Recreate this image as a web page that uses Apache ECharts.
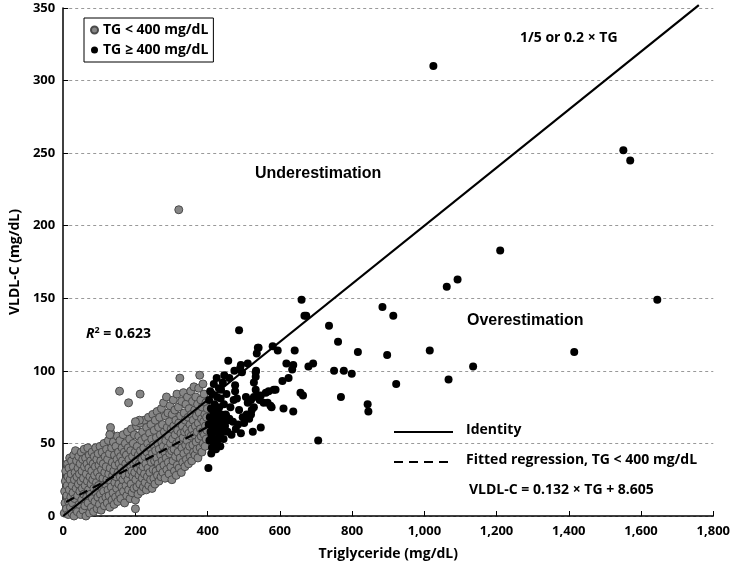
<!DOCTYPE html>
<html>
<head>
<meta charset="utf-8">
<script src="https://cdn.jsdelivr.net/npm/echarts@6/dist/echarts.min.js"></script>
<style>html,body{margin:0;padding:0;background:#fff;}#c{width:733px;height:576px;}</style>
</head>
<body>
<div id="c"></div>
<script>
// ---- Data ----
var xTicks = [0, 200, 400, 600, 800, 1000, 1200, 1400, 1600, 1800];
var yTicks = [0, 50, 100, 150, 200, 250, 300, 350];

// TG < 400 mg/dL (grey points): [TG, VLDL-C]
var tgLow = [
[3,2],[5,9],[4,17],[6,24],[7,31],[9,5],[10,14],[11,21],[12,36],[13,27],[14,1],[15,10],[16,33],[17,18],[18,40],[19,25],[20,6],[21,13],[22,29],[23,38],[24,2],[25,21],
[26,9],[27,16],[28,34],[29,42],[30,0],[31,25],[32,12],[33,30],[34,45],[35,5],[36,19],[37,38],[38,27],[39,3],[40,14],[41,33],[42,22],[43,41],[44,8],[45,29],[46,17],[47,36],[48,1],[49,24],[50,44],
[51,11],[52,31],[53,19],[54,39],[55,4],[56,26],[57,15],[58,46],[59,34],[60,7],[61,21],[62,40],[63,0],[64,29],[65,13],[66,36],[67,24],[68,47],[69,9],[70,18],[71,33],[72,42],[73,2],[74,27],[75,15],[76,38],[77,22],[78,6],[79,31],[80,44],[81,12],[82,25],[83,36],[84,3],[85,19],[86,41],[87,28],[88,10],[89,34],[90,47],[91,16],[92,23],[93,39],[94,5],[95,30],[96,13],[97,43],[98,21],[99,35],[100,8],
[101,27],[102,48],[103,15],[104,38],[105,4],[106,32],[107,20],[108,44],[109,11],[110,26],[111,36],[112,17],[113,50],[114,7],[115,30],[116,41],[117,22],[118,13],[119,34],[120,46],[121,25],[122,9],[123,39],[124,18],[125,52],[126,29],[127,14],[128,43],[129,6],[130,33],[131,24],[132,57],[133,20],[134,47],[135,11],[136,37],[137,28],[138,16],[139,51],[140,31],[141,8],[142,42],[143,23],[144,35],[145,13],[146,48],[147,27],[148,19],[149,39],[150,55],
[151,10],[152,30],[153,44],[154,22],[155,36],[156,15],[157,52],[158,27],[159,41],[160,12],[161,33],[162,20],[163,47],[164,38],[165,25],[166,56],[167,17],[168,31],[169,44],[170,9],[171,28],[172,50],[173,36],[174,21],[175,42],[176,14],[177,33],[178,58],[179,25],[180,47],[181,18],[182,39],[183,29],[184,53],[185,12],[186,35],[187,45],[188,22],[189,60],[190,31],[191,16],[192,41],[193,27],[194,50],[195,36],[196,19],[197,56],[198,30],[199,44],[200,11],
[201,25],[202,38],[203,62],[204,20],[205,48],[206,33],[207,15],[208,42],[209,55],[210,28],[211,36],[212,22],[213,64],[214,45],[215,31],[216,17],[217,52],[218,39],[219,26],[220,58],[221,34],[222,20],[223,47],[224,66],[225,29],[226,41],[227,23],[228,54],[229,36],[230,18],[231,61],[232,44],[233,27],[234,50],[235,33],[236,68],[237,21],[238,40],[239,57],[240,30],[241,47],[242,25],[243,63],[244,37],[245,53],[246,19],[247,43],[248,70],[249,32],[250,49],
[251,26],[252,59],[253,38],[254,22],[255,66],[256,45],[257,31],[258,54],[259,40],[260,72],[261,28],[262,50],[263,36],[264,61],[265,24],[266,46],[267,68],[268,33],[269,56],[270,42],[271,27],[272,74],[273,51],[274,38],[275,63],[276,30],[277,48],[278,78],[279,35],[280,58],[281,44],[282,26],[283,69],[284,52],[285,40],[286,82],[287,32],[288,61],[289,47],[290,71],[291,37],[292,55],[293,29],[294,65],[295,43],[296,76],[297,50],[298,34],[299,60],[300,45],
[301,25],[302,70],[303,53],[304,38],[305,80],[306,62],[307,46],[308,31],[309,73],[310,56],[311,41],[312,66],[313,28],[314,50],[315,84],[316,35],[317,59],[318,44],[319,75],[320,64],[321,33],[322,52],[323,95],[324,40],[325,69],[326,57],[327,30],[328,79],[329,47],[330,62],[331,37],[332,54],[333,85],[334,43],[335,71],[336,58],[337,34],[338,66],[339,49],[340,77],[341,39],[342,60],[343,52],[344,82],[345,45],[346,68],[347,36],[348,57],[349,74],[350,48],
[351,63],[352,41],[353,86],[354,55],[355,70],[356,38],[357,60],[358,79],[359,49],[360,66],[361,44],[362,89],[363,56],[364,73],[365,42],[366,62],[367,82],[368,51],[369,69],[370,46],[371,58],[372,77],[373,40],[374,64],[375,88],[376,53],[377,71],[378,97],[379,47],[380,60],[381,80],[382,55],[383,67],[384,44],[385,75],[386,58],[387,91],[388,50],[389,65],[390,84],[391,56],[392,70],[393,48],[394,62],[395,78],[396,53],[397,68],[398,59],[399,74],
[320,211],[156,86],[213,84],[181,78],[200,5],[131,61],[129,56],[211,66],[200,65]
];

// TG >= 400 mg/dL (black points): [TG, VLDL-C]
var tgHigh = [
[402,33],[410,43],[412,47],[405,52],[408,58],[403,63],[406,68],[409,74],[404,80],[407,86],[411,55],[414,61],[416,49],[418,66],[415,72],[413,84],[417,91],[420,53],[422,58],[419,77],[421,64],[424,70],[423,46],[426,82],[425,95],[428,60],[427,52],[430,67],[429,74],[431,88],[433,56],[432,75],[434,62],[436,81],[435,48],[437,87],[438,70],[440,58],[441,65],[442,92],[444,53],[445,77],[446,97],[448,62],[450,70],[451,69],[452,84],[455,58],[457,107],[458,66],[460,95],[460,67],[463,75],[466,56],[470,65],[472,80],[474,100],[476,90],[476,86],[478,60],[481,81],[484,63],[487,73],[487,128],[490,102],[492,57],[492,104],[495,99],[497,68],[501,64],[506,82],[508,70],[511,78],[511,105],[515,67],[520,70],[520,80],[522,73],[525,58],[528,75],[528,82],[528,92],[533,87],[533,96],[533,99],[534,100],[536,112],[539,83],[539,116],[541,116],[544,80],[547,61],[547,83],[555,78],[561,85],[566,78],[569,86],[574,76],[577,75],[580,117],[583,87],[588,87],[594,114],[607,93],[610,74],[618,105],[624,95],[634,101],[637,104],[637,72],[641,114],[657,85],[660,149],[664,83],[668,138],[673,138],[679,103],[692,105],[706,52],[736,131],[750,100],[761,120],[769,82],[777,100],[799,98],[816,113],[843,77],[845,72],[884,144],[897,111],[914,138],[922,91],[1015,114],[1025,310],[1062,158],[1067,94],[1092,163],[1135,103],[1210,183],[1415,113],[1551,252],[1570,245],[1645,149]
];

// Lines
var identityLine = [[0, 0], [1760, 352]];         // 1/5 or 0.2 x TG
var regressionLine = [[8, 9.7], [400, 61.4]];     // VLDL-C = 0.132 x TG + 8.605

var seriesNames = ['TG < 400 mg/dL', 'TG \u2265 400 mg/dL'];

// ---- Chart ----
var chart = echarts.init(document.getElementById('c'), null, {renderer: 'canvas'});
var F = "'Open Sans', 'Noto Sans', sans-serif";
var A = "'Liberation Sans', Arial, sans-serif";

var option = {
  animation: false,
  backgroundColor: '#fff',
  grid: {left: 60, right: 15, top: 8, bottom: 60},
  legend: {
    data: seriesNames,
    left: 84, top: 18,
    orient: 'vertical',
    borderColor: '#000', borderWidth: 1,
    padding: [5, 5, 5, 6],
    itemGap: 6, itemWidth: 7, itemHeight: 7,
    textStyle: {fontFamily: F, fontWeight: 'bold', fontSize: 14, color: '#000'}
  },
  xAxis: {
    type: 'value', min: 0, max: 1800, interval: 200,
    name: 'Triglyceride (mg/dL)', nameLocation: 'middle', nameGap: 31,
    nameTextStyle: {fontFamily: F, fontWeight: 'bold', fontSize: 14, color: '#000'},
    axisLine: {lineStyle: {color: '#000', width: 1.5}},
    axisTick: {inside: true, length: 5, lineStyle: {color: '#000'}},
    axisLabel: {fontFamily: F, fontWeight: 'bold', fontSize: 13, color: '#000', margin: 9,
      formatter: function (v) { return v.toLocaleString('en-US'); }},
    splitLine: {show: false}
  },
  yAxis: {
    type: 'value', min: 0, max: 350, interval: 50,
    name: 'VLDL-C (mg/dL)', nameLocation: 'middle', nameGap: 40,
    nameTextStyle: {fontFamily: F, fontWeight: 'bold', fontSize: 14, color: '#000'},
    axisLine: {show: true, lineStyle: {color: '#000', width: 1.5}},
    axisTick: {show: true, inside: true, length: 5, lineStyle: {color: '#000'}},
    axisLabel: {fontFamily: F, fontWeight: 'bold', fontSize: 13, color: '#000', margin: 8},
    splitLine: {show: true, lineStyle: {color: '#999', type: [3, 3], width: 1}}
  },
  series: [
    {
      name: seriesNames[0], type: 'scatter', data: tgLow, symbolSize: 8,
      itemStyle: {color: '#868686', borderColor: '#4a4a4a', borderWidth: 1, opacity: 1},
      z: 2
    },
    {
      name: seriesNames[1], type: 'scatter', data: tgHigh, symbolSize: 8,
      itemStyle: {color: '#000', borderColor: '#000', borderWidth: 0, opacity: 1},
      z: 3
    },
    {
      name: 'Identity', type: 'line', data: identityLine, symbol: 'none', clip: false,
      lineStyle: {color: '#000', width: 2.2}, z: 5, silent: true
    },
    {
      name: 'Fitted regression', type: 'line', data: regressionLine, symbol: 'none',
      lineStyle: {color: '#000', width: 2.2, type: [9, 6]}, z: 5, silent: true
    }
  ],
  graphic: [
    {type: 'text', left: 255, top: 166, style: {text: 'Underestimation', font: 'bold 16px ' + A, fill: '#000'}},
    {type: 'text', left: 467, top: 313, style: {text: 'Overestimation', font: 'bold 16px ' + A, fill: '#000'}},
    {type: 'text', left: 520, top: 31, style: {text: '1/5 or 0.2 \u00d7 TG', font: 'bold 14px ' + F, fill: '#000'}},
    {type: 'text', left: 86, top: 326, style: {
      text: '{i|R}{s|2}{n| = 0.623}',
      rich: {
        i: {fontFamily: F, fontStyle: 'italic', fontWeight: 'bold', fontSize: 14, color: '#000'},
        s: {fontFamily: F, fontWeight: 'bold', fontSize: 9, color: '#000', verticalAlign: 'top', padding: [0, 0, 8, 0]},
        n: {fontFamily: F, fontWeight: 'bold', fontSize: 14, color: '#000'}
      }
    }},
    {type: 'line', shape: {x1: 394, y1: 432, x2: 453, y2: 432}, style: {stroke: '#000', lineWidth: 2.2}},
    {type: 'text', left: 466, top: 423, style: {text: 'Identity', font: 'bold 14px ' + F, fill: '#000'}},
    {type: 'line', shape: {x1: 394, y1: 462, x2: 453, y2: 462}, style: {stroke: '#000', lineWidth: 2.2, lineDash: [9, 6]}},
    {type: 'text', left: 466, top: 453, style: {text: 'Fitted regression, TG < 400 mg/dL', font: 'bold 14px ' + F, fill: '#000'}},
    {type: 'text', left: 469, top: 483, style: {text: 'VLDL-C = 0.132 \u00d7 TG + 8.605', font: 'bold 14px ' + F, fill: '#000'}}
  ]
};
chart.setOption(option);
</script>
</body>
</html>
